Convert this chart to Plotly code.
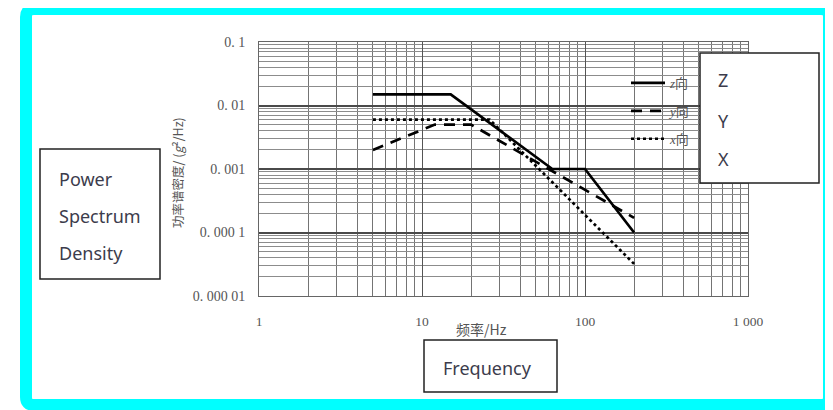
import plotly.graph_objects as go

# ---- data ----
z_freq = [5, 15, 63, 100, 200]
z_psd = [0.015, 0.015, 0.001, 0.001, 0.0001]
y_freq = [5, 12, 20, 200]
y_psd = [0.002, 0.005, 0.005, 0.00017]
x_freq = [5, 26, 200]
x_psd = [0.006, 0.006, 0.000032]

x_tickvals = [1, 10, 100, 1000]
x_ticktext = ["1", "10", "100", "1 000"]
y_tickvals = [1e-5, 1e-4, 1e-3, 1e-2, 1e-1]
y_ticktext = ["0. 000 01", "0. 000 1", "0. 001", "0. 01", "0. 1"]

series_names = ["<i>z</i>向", "<i>y</i>向", "<i>x</i>向"]
box_labels = ["Z", "Y", "X"]
left_labels = ["Power", "Spectrum", "Density"]
freq_label = "Frequency"

# ---- layout geometry (reference pixels; page body adds an 8px offset) ----
W, H = 833, 410
OFF = 8
X0, X1, Y0, Y1 = 259, 748, 42, 296


def px(x):
    return (x - X0) / (X1 - X0)


def py(y):
    return (Y1 - y) / (Y1 - Y0)


minor_x = [k * 10 ** d for d in range(0, 3) for k in range(2, 10)]
minor_y = [k * 10 ** d for d in range(-5, -1) for k in range(2, 10)]

fig = go.Figure()
fig.add_trace(go.Scatter(x=z_freq, y=z_psd, mode="lines", name=series_names[0],
                         legendgroup="z", line=dict(color="black", width=2.7)))
fig.add_trace(go.Scatter(x=y_freq, y=y_psd, mode="lines", name=series_names[1],
                         legendgroup="y", line=dict(color="black", width=2.7, dash="11px,8px")))
fig.add_trace(go.Scatter(x=x_freq, y=x_psd, mode="lines", name=series_names[2],
                         legendgroup="x", line=dict(color="black", width=2.7, dash="3px,3px")))

fig.update_xaxes(type="log", range=[0, 3], tickvals=x_tickvals, ticktext=x_ticktext,
                 showgrid=True, gridcolor="#555", gridwidth=1.3,
                 minor=dict(tickvals=minor_x, showgrid=True, gridcolor="#747474", gridwidth=1.1),
                 showline=True, linecolor="#666", linewidth=1, mirror=True,
                 ticks="", ticklabelstandoff=13,
                 tickfont=dict(family="Liberation Serif, DejaVu Serif, serif", size=13.5, color="#555"),
                 zeroline=False)
fig.update_yaxes(type="log", range=[-5, -1], tickvals=y_tickvals, ticktext=y_ticktext,
                 showgrid=True, gridcolor="#4a4a4a", gridwidth=1.8,
                 minor=dict(tickvals=minor_y, showgrid=True, gridcolor="#8c8c8c", gridwidth=1),
                 showline=True, linecolor="#666", linewidth=1, mirror=True,
                 ticks="", ticklabelstandoff=10,
                 tickfont=dict(family="Liberation Serif, DejaVu Serif, serif", size=14, color="#555"),
                 zeroline=False)

shapes = []
# white area behind the in-plot legend
shapes.append(dict(type="rect", xref="paper", yref="paper", layer="between",
                   x0=px(610), x1=px(700), y0=py(153), y1=py(70),
                   fillcolor="white", line=dict(width=0)))
# Z/Y/X annotation box
shapes.append(dict(type="rect", xref="paper", yref="paper", layer="above",
                   x0=px(700), x1=px(819), y0=py(183), y1=py(53),
                   fillcolor="white", line=dict(color="#222", width=1.5)))
# left label box
shapes.append(dict(type="rect", xref="paper", yref="paper", layer="above",
                   x0=px(40), x1=px(160), y0=py(279), y1=py(149),
                   fillcolor="white", line=dict(color="#222", width=1.5)))
# frequency label box
shapes.append(dict(type="rect", xref="paper", yref="paper", layer="above",
                   x0=px(424), x1=px(557), y0=py(392), y1=py(340),
                   fillcolor="white", line=dict(color="#222", width=1.5)))


def frame_path(l, t, r, b, rad):
    return (f"M {px(l+rad)},{py(t)} L {px(r-rad)},{py(t)} Q {px(r)},{py(t)} {px(r)},{py(t+rad)} "
            f"L {px(r)},{py(b-rad)} Q {px(r)},{py(b)} {px(r-rad)},{py(b)} "
            f"L {px(l+rad)},{py(b)} Q {px(l)},{py(b)} {px(l)},{py(b-rad)} "
            f"L {px(l)},{py(t+rad)} Q {px(l)},{py(t)} {px(l+rad)},{py(t)} Z")


# cyan outer frame
shapes.append(dict(type="path", xref="paper", yref="paper", layer="above",
                   path=frame_path(26, 9, 829, 405, 8),
                   line=dict(color="#00ffff", width=12), fillcolor="rgba(0,0,0,0)"))

annotations = []
txt_color = "#3c3c4c"
box_font = dict(family="Noto Sans, sans-serif", size=18, color=txt_color)
for lab, yy in zip(box_labels, [80, 121, 159]):
    annotations.append(dict(text=lab, xref="paper", yref="paper", x=px(716), y=py(yy),
                            xanchor="left", yanchor="middle", showarrow=False, font=box_font))
for lab, yy in zip(left_labels, [179, 216, 253]):
    annotations.append(dict(text=lab, xref="paper", yref="paper", x=px(57), y=py(yy),
                            xanchor="left", yanchor="middle", showarrow=False, font=box_font))
annotations.append(dict(text=freq_label, xref="paper", yref="paper", x=px(487), y=py(368),
                        xanchor="center", yanchor="middle", showarrow=False, font=box_font))
annotations.append(dict(text="功率谱密度/ (<i>g</i>²/Hz)", xref="paper", yref="paper",
                        x=px(177), y=py(173), textangle=-90, showarrow=False,
                        xanchor="center", yanchor="middle",
                        font=dict(family="Noto Sans CJK SC, sans-serif", size=12.5, color="#555")))
annotations.append(dict(text="频率/Hz", xref="paper", yref="paper",
                        x=px(481), y=py(329), showarrow=False,
                        xanchor="center", yanchor="middle",
                        font=dict(family="Noto Sans CJK SC, sans-serif", size=14, color="#555")))

fig.update_layout(
    width=W, height=H,
    margin=dict(l=X0 - OFF, r=W - X1 + OFF, t=Y0 - OFF, b=H - Y1 + OFF, pad=0),
    paper_bgcolor="white", plot_bgcolor="white",
    shapes=shapes, annotations=annotations,
    showlegend=True,
    legend=dict(x=px(626), y=py(68), xanchor="left", yanchor="top",
                bgcolor="rgba(0,0,0,0)", borderwidth=0, itemwidth=34,
                tracegroupgap=8,
                font=dict(family="Liberation Serif, Noto Sans CJK SC, serif", size=13, color="#555")),
)

fig.write_html("out.html")
